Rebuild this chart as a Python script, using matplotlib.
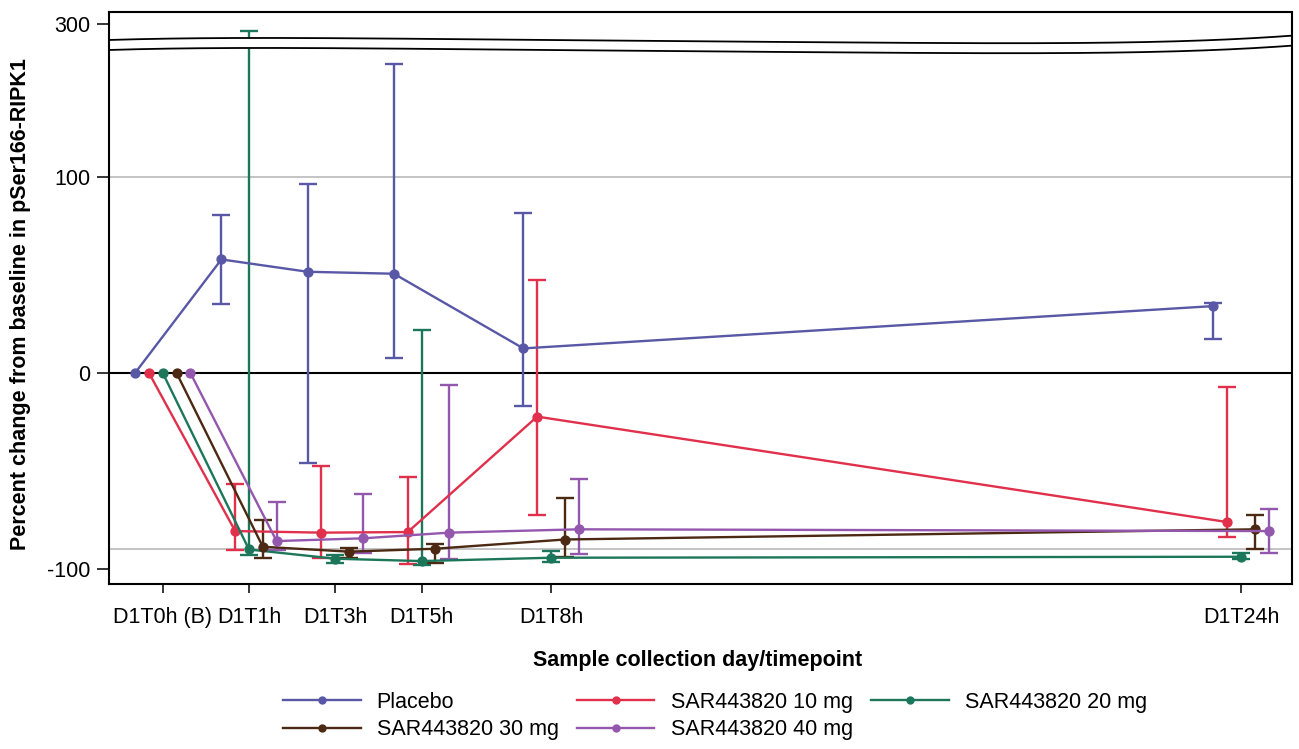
import numpy as np
import matplotlib
matplotlib.use("Agg")
import matplotlib.pyplot as plt
from matplotlib.lines import Line2D

plt.rcParams['font.family'] = ['Liberation Sans', 'DejaVu Sans']

# time points (hours, baseline drawn at -1) and their labels
timepoints = [-1, 1, 3, 5, 8, 24]
tick_labels = ['D1T0h (B)', 'D1T1h', 'D1T3h', 'D1T5h', 'D1T8h', 'D1T24h']

groups = ['Placebo', 'SAR443820 10 mg', 'SAR443820 20 mg', 'SAR443820 30 mg', 'SAR443820 40 mg']

placebo_mean = [0, 57.9, 51.6, 50.6, 12.5, 34.1]
placebo_lo = [0, 35.0, -46.2, 7.4, -16.9, 17.4]
placebo_hi = [0, 80.4, 96.2, 157.7, 81.4, 35.8]

mg10_mean = [0, -80.7, -81.5, -81.2, -22.3, -76.1]
mg10_lo = [0, -90.6, -94.6, -97.7, -72.6, -83.8]
mg10_hi = [0, -56.5, -47.6, -53.2, 47.5, -7.2]

mg20_mean = [0, -90.1, -94.8, -96.0, -94.3, -93.8]
mg20_lo = [0, -93.0, -96.8, -98.2, -96.3, -95.2]
mg20_hi = [0, 296.5, -93.1, 21.7, -90.9, -92.1]

mg30_mean = [0, -88.7, -91.2, -89.7, -85.0, -79.8]
mg30_lo = [0, -94.3, -94.3, -96.8, -94.0, -89.7]
mg30_hi = [0, -75.1, -89.2, -87.5, -63.7, -72.5]

mg40_mean = [0, -85.8, -84.4, -81.5, -79.8, -80.7]
mg40_lo = [0, -90.4, -91.7, -95.2, -92.6, -91.7]
mg40_hi = [0, -65.7, -61.8, -6.2, -54.3, -69.6]

means = [placebo_mean, mg10_mean, mg20_mean, mg30_mean, mg40_mean]
lows = [placebo_lo, mg10_lo, mg20_lo, mg30_lo, mg40_lo]
highs = [placebo_hi, mg10_hi, mg20_hi, mg30_hi, mg40_hi]

colors = ['#5858a6', '#e0304b', '#1c775a', '#4b2912', '#9457ae']
dodge = [-0.64, -0.32, 0.0, 0.32, 0.64]

# broken y axis: squeeze the range between B1 and B2 into a small gap
B1, B2, G = 165.0, 292.0, 5.0


def fwd(y):
    y = np.asarray(y, dtype=float)
    return np.where(y <= B1, y,
                    np.where(y >= B2, y - (B2 - B1) + G,
                             B1 + (y - B1) * G / (B2 - B1)))


def inv(t):
    t = np.asarray(t, dtype=float)
    return np.where(t <= B1, t,
                    np.where(t >= B1 + G, t + (B2 - B1) - G,
                             B1 + (t - B1) * (B2 - B1) / G))


FS = 15.5
fig = plt.figure(figsize=(12.99, 7.49), dpi=100)
ax = fig.add_axes([0.0841, 0.2203, 0.9105, 0.7641])
ax.set_yscale('function', functions=(fwd, inv))

# reference lines
ax.axhline(100, color='#c4c4c4', lw=1.4, zorder=1)
ax.axhline(-90, color='#c4c4c4', lw=1.4, zorder=1)
ax.axhline(0, color='black', lw=1.5, zorder=1)

for i in range(len(groups)):
    x = np.array(timepoints) + dodge[i]
    m = np.array(means[i])
    lo = np.array(lows[i])
    hi = np.array(highs[i])
    ax.errorbar(x[1:], m[1:], yerr=[m[1:] - lo[1:], hi[1:] - m[1:]], fmt='none',
                ecolor=colors[i], elinewidth=1.7, capsize=6.6, capthick=1.7, zorder=2)
    ax.plot(x, m, '-o', color=colors[i], lw=1.7, ms=6.4, zorder=3)

ax.set_xlim(-2.24, 25.18)
ax.set_ylim(-107.7, 306.3)
ax.set_xticks(timepoints)
ax.set_xticklabels(tick_labels)
ax.set_yticks([-100, 0, 100, 300])
ax.set_yticklabels(['-100', '0', '100', '300'])
ax.tick_params(axis='both', labelsize=FS, width=1.1, direction='out')
ax.tick_params(axis='x', length=6.7, pad=9.7)
ax.tick_params(axis='y', length=8.4, pad=5.2)
for sp in ax.spines.values():
    sp.set_linewidth(1.5)
    sp.set_zorder(6)

# wavy break marks
xp = np.array([109, 250, 500, 700, 900, 1050, 1180, 1292])
yp = np.array([40, 38, 39.5, 41.5, 42.5, 43.5, 41, 35.7])
coef = np.polyfit((xp - 109.3) / 1182.7, yp, 5)
xs = np.linspace(0, 1, 300)
up_px = np.polyval(coef, xs)
upper = (584 - up_px) / 572.3
lower = (584 - (up_px + 10)) / 572.3
ax.fill_between(xs, lower, upper, color='white', transform=ax.transAxes, zorder=4, lw=0)
ax.plot(xs, upper, color='black', lw=1.3, transform=ax.transAxes, zorder=5)
ax.plot(xs, lower, color='black', lw=1.3, transform=ax.transAxes, zorder=5)

ax.set_xlabel('Sample collection day/timepoint', fontsize=FS, fontweight='bold')
ax.xaxis.set_label_coords(0.4978, -0.1153)
ax.set_ylabel('Percent change from baseline in pSer166-RIPK1', fontsize=FS, fontweight='bold')
ax.yaxis.set_label_coords(-0.0662, 0.49)

# legend, row-major order in 3 columns
order = [0, 3, 1, 4, 2]
handles = [Line2D([], [], color=colors[k], lw=1.7, marker='o', ms=5) for k in order]
labels = [groups[k] for k in order]
fig.legend(handles, labels, loc='upper left', bbox_to_anchor=(283 / 1299, 1 - 692 / 749),
           ncol=3, frameon=False, fontsize=FS, handlelength=3.6, handletextpad=0.75,
           columnspacing=0.85, labelspacing=0.3, borderpad=0, borderaxespad=0)

fig.savefig('out.png', dpi=100)
